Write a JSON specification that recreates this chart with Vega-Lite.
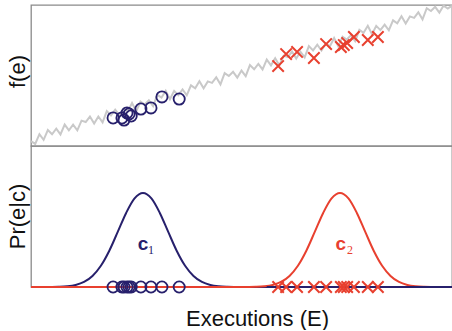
{
  "$schema": "https://vega.github.io/schema/vega-lite/v6.json",
  "autosize": {"type": "pad"},
  "padding": {"left": 5, "top": 0, "right": 0, "bottom": 0},
  "spacing": 0,
  "bounds": "flush",
  "config": {
    "view": {"stroke": "#8a8a8a", "strokeWidth": 1.3},
    "font": "Liberation Sans",
    "axis": {"grid": false, "labels": false, "ticks": false, "domain": false, "titleFontSize": 22, "titleFontWeight": "normal", "titleColor": "#111", "titleFont": "Liberation Sans"}
  },
  "datasets": {
    "trend": [
      {"x":0,"f":3.5},{"x":1,"f":1.5},{"x":2,"f":8.4},{"x":3,"f":4.4},{"x":4,"f":11.3},{"x":5,"f":8.3},{"x":6,"f":12.3},{"x":7,"f":8.2},{"x":8,"f":15.2},{"x":9,"f":11.1},
      {"x":10,"f":15.1},{"x":11,"f":11.1},{"x":12,"f":18.0},{"x":13,"f":17.0},{"x":14,"f":20.9},{"x":15,"f":15.9},{"x":16,"f":20.9},{"x":17,"f":16.8},{"x":18,"f":24.8},{"x":19,"f":21.7},
      {"x":20,"f":25.7},{"x":21,"f":21.7},{"x":22,"f":26.6},{"x":23,"f":24.6},{"x":24,"f":30.5},{"x":25,"f":24.5},{"x":26,"f":31.5},{"x":27,"f":29.4},{"x":28,"f":32.4},{"x":29,"f":28.3},
      {"x":30,"f":36.3},{"x":31,"f":34.3},{"x":32,"f":39.2},{"x":33,"f":33.2},{"x":34,"f":39.1},{"x":35,"f":36.1},{"x":36,"f":40.1},{"x":37,"f":36.0},{"x":38,"f":43.0},{"x":39,"f":40.9},
      {"x":40,"f":45.9},{"x":41,"f":40.9},{"x":42,"f":45.8},{"x":43,"f":44.8},{"x":44,"f":48.7},{"x":45,"f":43.7},{"x":46,"f":51.7},{"x":47,"f":49.6},{"x":48,"f":52.6},{"x":49,"f":48.5},
      {"x":50,"f":53.5},{"x":51,"f":49.5},{"x":52,"f":57.4},{"x":53,"f":54.4},{"x":54,"f":58.3},{"x":55,"f":54.3},{"x":56,"f":61.3},{"x":57,"f":57.2},{"x":58,"f":62.2},{"x":59,"f":57.1},
      {"x":60,"f":64.1},{"x":61,"f":63.1},{"x":62,"f":67.0},{"x":63,"f":62.0},{"x":64,"f":66.9},{"x":65,"f":62.9},{"x":66,"f":70.9},{"x":67,"f":67.8},{"x":68,"f":71.8},{"x":69,"f":67.7},
      {"x":70,"f":72.7},{"x":71,"f":70.7},{"x":72,"f":76.6},{"x":73,"f":70.6},{"x":74,"f":77.5},{"x":75,"f":75.5},{"x":76,"f":78.5},{"x":77,"f":74.4},{"x":78,"f":82.4},{"x":79,"f":80.3},
      {"x":80,"f":85.3},{"x":81,"f":79.3},{"x":82,"f":85.2},{"x":83,"f":82.2},{"x":84,"f":86.1},{"x":85,"f":82.1},{"x":86,"f":89.1},{"x":87,"f":87.0},{"x":88,"f":92.0},{"x":89,"f":86.9},
      {"x":90,"f":91.9},{"x":91,"f":90.9},{"x":92,"f":94.8},{"x":93,"f":89.8},{"x":94,"f":97.7},{"x":95,"f":95.7},{"x":96,"f":98.7},{"x":97,"f":94.6},{"x":98,"f":99.6},{"x":99,"f":97.5},{"x":100,"f":99.5}
    ],
    "pts": [
      {"x":19.5,"f":19.9,"s":"c1"},{"x":21.6,"f":19.9,"s":"c1"},{"x":22.1,"f":18.4,"s":"c1"},{"x":22.8,"f":23.4,"s":"c1"},{"x":23.3,"f":22.7,"s":"c1"},
      {"x":23.8,"f":21.3,"s":"c1"},{"x":26.1,"f":26.2,"s":"c1"},{"x":28.5,"f":27.0,"s":"c1"},{"x":31.1,"f":34.8,"s":"c1"},{"x":35.2,"f":33.3,"s":"c1"},
      {"x":58.7,"f":56.7,"s":"c2"},{"x":60.6,"f":65.2,"s":"c2"},{"x":63.2,"f":66.7,"s":"c2"},{"x":67.2,"f":62.4,"s":"c2"},{"x":70.1,"f":72.3,"s":"c2"},
      {"x":73.6,"f":70.2,"s":"c2"},{"x":74.3,"f":71.6,"s":"c2"},{"x":75.1,"f":73.0,"s":"c2"},{"x":76.7,"f":77.3,"s":"c2"},{"x":80.0,"f":75.2,"s":"c2"},{"x":82.4,"f":77.3,"s":"c2"}
    ],
    "curves": [
      {"x":0,"p":0,"s":"c1"},{"x":2.6,"p":0,"s":"c1"},{"x":4.6,"p":0.0008,"s":"c1"},{"x":6.6,"p":0.0026,"s":"c1"},{"x":8.6,"p":0.008,"s":"c1"},{"x":10.6,"p":0.022,"s":"c1"},
      {"x":12.6,"p":0.054,"s":"c1"},{"x":14.6,"p":0.118,"s":"c1"},{"x":16.6,"p":0.226,"s":"c1"},{"x":18.6,"p":0.386,"s":"c1"},{"x":20.6,"p":0.586,"s":"c1"},{"x":22.6,"p":0.788,"s":"c1"},
      {"x":24.6,"p":0.942,"s":"c1"},{"x":26.6,"p":1,"s":"c1"},{"x":28.6,"p":0.942,"s":"c1"},{"x":30.6,"p":0.788,"s":"c1"},{"x":32.6,"p":0.586,"s":"c1"},{"x":34.6,"p":0.386,"s":"c1"},
      {"x":36.6,"p":0.226,"s":"c1"},{"x":38.6,"p":0.118,"s":"c1"},{"x":40.6,"p":0.054,"s":"c1"},{"x":42.6,"p":0.022,"s":"c1"},{"x":44.6,"p":0.008,"s":"c1"},{"x":46.6,"p":0.0026,"s":"c1"},
      {"x":48.6,"p":0.0008,"s":"c1"},{"x":50.6,"p":0,"s":"c1"},{"x":56,"p":0,"s":"c1"},{"x":100,"p":0,"s":"c1"},
      {"x":0,"p":0,"s":"c2"},{"x":49.4,"p":0,"s":"c2"},{"x":51.4,"p":0.0008,"s":"c2"},{"x":53.4,"p":0.0026,"s":"c2"},{"x":55.4,"p":0.008,"s":"c2"},{"x":57.4,"p":0.022,"s":"c2"},
      {"x":59.4,"p":0.054,"s":"c2"},{"x":61.4,"p":0.118,"s":"c2"},{"x":63.4,"p":0.226,"s":"c2"},{"x":65.4,"p":0.386,"s":"c2"},{"x":67.4,"p":0.586,"s":"c2"},{"x":69.4,"p":0.788,"s":"c2"},
      {"x":71.4,"p":0.942,"s":"c2"},{"x":73.4,"p":1,"s":"c2"},{"x":75.4,"p":0.942,"s":"c2"},{"x":77.4,"p":0.788,"s":"c2"},{"x":79.4,"p":0.586,"s":"c2"},{"x":81.4,"p":0.386,"s":"c2"},
      {"x":83.4,"p":0.226,"s":"c2"},{"x":85.4,"p":0.118,"s":"c2"},{"x":87.4,"p":0.054,"s":"c2"},{"x":89.4,"p":0.022,"s":"c2"},{"x":91.4,"p":0.008,"s":"c2"},{"x":93.4,"p":0.0026,"s":"c2"},
      {"x":95.4,"p":0.0008,"s":"c2"},{"x":97.4,"p":0,"s":"c2"},{"x":100,"p":0,"s":"c2"}
    ],
    "labels": [
      {"t":"c","x":26.6,"y":0.394,"s":"c1","k":"main"},{"t":"1","x":28.5,"y":0.351,"s":"c1","k":"sub"},
      {"t":"c","x":73.6,"y":0.394,"s":"c2","k":"main"},{"t":"2","x":75.8,"y":0.351,"s":"c2","k":"sub"}
    ]
  },
  "vconcat": [
    {
      "width": 421, "height": 141,
      "layer": [
        {
          "data": {"name": "trend"},
          "mark": {"type": "line", "color": "#c9c9c9", "strokeWidth": 2},
          "encoding": {
            "x": {"field": "x", "type": "quantitative", "scale": {"domain": [0, 100], "nice": false}, "axis": null},
            "y": {"field": "f", "type": "quantitative", "scale": {"domain": [0, 100], "nice": false},
                  "axis": {"title": "f(e)", "titleX": -7, "titleY": 66, "titleBaseline": "alphabetic", "titleAlign": "center", "titleAngle": 270}}
          }
        },
        {
          "data": {"name": "pts"},
          "transform": [{"filter": "datum.s === 'c1'"}],
          "mark": {"type": "point", "shape": "circle", "filled": false, "size": 125, "strokeWidth": 1.8, "color": "#27206c", "opacity": 1},
          "encoding": {
            "x": {"field": "x", "type": "quantitative"},
            "y": {"field": "f", "type": "quantitative"}
          }
        },
        {
          "data": {"name": "pts"},
          "transform": [{"filter": "datum.s === 'c2'"}],
          "mark": {"type": "point", "shape": "M-1,-1L1,1M-1,1L1,-1", "filled": false, "size": 130, "strokeWidth": 2, "color": "#e8402f", "opacity": 1},
          "encoding": {
            "x": {"field": "x", "type": "quantitative"},
            "y": {"field": "f", "type": "quantitative"}
          }
        }
      ]
    },
    {
      "width": 421, "height": 141,
      "layer": [
        {
          "data": {"name": "curves"},
          "transform": [{"filter": "datum.s === 'c1'"}],
          "mark": {"type": "line", "strokeWidth": 2, "interpolate": "monotone", "color": "#27206c"},
          "encoding": {
            "x": {"field": "x", "type": "quantitative", "scale": {"domain": [0, 100], "nice": false},
                  "axis": {"title": "Executions (E)", "titleX": 226, "titleY": 38, "titleBaseline": "alphabetic", "titleAlign": "center"}},
            "y": {"field": "p", "type": "quantitative", "scale": {"domain": [0, 1.5], "nice": false},
                  "axis": {"title": "Pr(e|c)", "titleX": -7, "titleY": 70, "titleBaseline": "alphabetic", "titleAlign": "center", "titleAngle": 270}}
          }
        },
        {
          "data": {"name": "curves"},
          "transform": [{"filter": "datum.s === 'c2'"}],
          "mark": {"type": "line", "strokeWidth": 2, "interpolate": "monotone", "color": "#e8402f"},
          "encoding": {
            "x": {"field": "x", "type": "quantitative"},
            "y": {"field": "p", "type": "quantitative"}
          }
        },
        {
          "data": {"name": "curves"},
          "transform": [{"filter": "datum.s === 'c1' && datum.x >= 56"}],
          "mark": {"type": "line", "strokeWidth": 2, "color": "#27206c"},
          "encoding": {
            "x": {"field": "x", "type": "quantitative"},
            "y": {"field": "p", "type": "quantitative"}
          }
        },
        {
          "data": {"name": "pts"},
          "transform": [{"filter": "datum.s === 'c1'"}],
          "mark": {"type": "point", "shape": "circle", "filled": false, "size": 125, "strokeWidth": 1.8, "color": "#27206c", "opacity": 1},
          "encoding": {
            "x": {"field": "x", "type": "quantitative"},
            "y": {"datum": 0}
          }
        },
        {
          "data": {"name": "pts"},
          "transform": [{"filter": "datum.s === 'c2'"}],
          "mark": {"type": "point", "shape": "M-1,-1L1,1M-1,1L1,-1", "filled": false, "size": 130, "strokeWidth": 2, "color": "#e8402f", "opacity": 1},
          "encoding": {
            "x": {"field": "x", "type": "quantitative"},
            "y": {"datum": 0}
          }
        },
        {
          "data": {"name": "labels"},
          "transform": [{"filter": "datum.k === 'main'"}],
          "mark": {"type": "text", "fontSize": 19, "fontWeight": "bold", "font": "Liberation Sans", "align": "center", "baseline": "alphabetic"},
          "encoding": {
            "x": {"field": "x", "type": "quantitative"},
            "y": {"field": "y", "type": "quantitative"},
            "text": {"field": "t"},
            "color": {"field": "s", "type": "nominal", "scale": {"domain": ["c1", "c2"], "range": ["#27206c", "#e8402f"]}, "legend": null}
          }
        },
        {
          "data": {"name": "labels"},
          "transform": [{"filter": "datum.k === 'sub'"}],
          "mark": {"type": "text", "fontSize": 12, "font": "Liberation Serif", "align": "center", "baseline": "alphabetic"},
          "encoding": {
            "x": {"field": "x", "type": "quantitative"},
            "y": {"field": "y", "type": "quantitative"},
            "text": {"field": "t"},
            "color": {"field": "s", "type": "nominal", "scale": {"domain": ["c1", "c2"], "range": ["#27206c", "#e8402f"]}, "legend": null}
          }
        }
      ]
    }
  ]
}
